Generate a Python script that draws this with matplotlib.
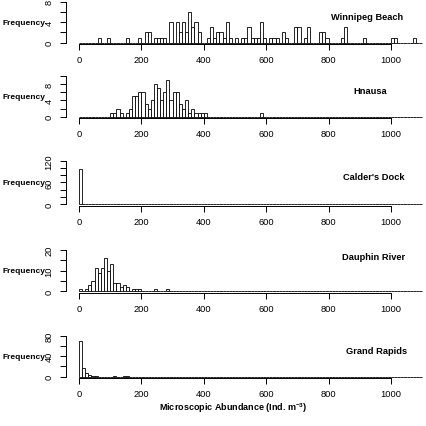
import numpy as np
import matplotlib
matplotlib.use("Agg")
import matplotlib.pyplot as plt

W, H = 426, 427
plt.rcParams['font.family'] = ['Liberation Sans Narrow', 'Liberation Sans', 'DejaVu Sans']
plt.rcParams['mathtext.default'] = 'regular'

# sites, top to bottom
sitios = ["Winnipeg Beach", "Hnausa", "Calder's Dock", "Dauphin River", "Grand Rapids"]

# histogram bins are 10 Ind. m-3 wide, 0..1100; only non-empty bins listed (bin start)
wb_bins = [60, 90, 150, 190, 210, 220, 240, 250, 260, 270, 290, 310, 320, 330, 340,
           350, 360, 370, 380, 410, 420, 430, 440, 450, 460, 470, 480, 500, 520, 530,
           540, 550, 560, 570, 580, 590, 610, 620, 630, 650, 660, 690, 700, 720, 730,
           770, 780, 790, 840, 850, 910, 1000, 1010, 1070]
wb_counts = [1, 1, 1, 1, 2, 2, 1, 1, 1, 1, 4, 4, 2, 4, 2,
             6, 3, 4, 2, 1, 3, 1, 2, 2, 1, 4, 1, 1, 1, 1,
             3, 1, 1, 1, 4, 1, 1, 1, 1, 2, 1, 3, 3, 1, 3,
             2, 2, 1, 1, 3, 1, 1, 1, 1]

hn_bins = [100, 110, 120, 130, 150, 160, 170, 180, 190, 200, 210, 220, 230, 240, 250,
           260, 270, 280, 290, 300, 310, 320, 330, 340, 350, 360, 370, 380, 390, 400, 580]
hn_counts = [1, 1, 2, 1, 1, 2, 5, 5, 6, 6, 3, 2, 4, 8, 7,
             4, 6, 9, 4, 6, 6, 3, 2, 4, 1, 2, 1, 1, 1, 1, 1]

cd_bins = [0]
cd_counts = [96]

dr_bins = [0, 20, 30, 40, 50, 60, 70, 80, 90, 100, 110, 120, 130, 140, 150, 170, 180, 190, 240, 280]
dr_counts = [1, 1, 3, 5, 11, 9, 11, 16, 10, 13, 4, 4, 2, 3, 2, 1, 1, 1, 1, 1]

gr_bins = [0, 10, 20, 30, 40, 50, 110, 140, 150]
gr_counts = [70, 16, 7, 3, 1, 2, 1, 1, 1]

datos = [(wb_bins, wb_counts), (hn_bins, hn_counts), (cd_bins, cd_counts),
         (dr_bins, dr_counts), (gr_bins, gr_counts)]

# y axis: labelled ticks, unlabelled ticks
y_major = [[0, 4, 8], [0, 4, 8], [0, 60, 120], [0, 10, 20], [0, 40, 80]]
y_minor = [[2, 6], [2, 6, 10], [20, 40, 80, 100], [5, 15], [20, 60]]
y_top = [8, 10, 120, 20, 80]

# pixel rows of zero and of top tick for each panel
zero_px = [43.7, 117.7, 205.0, 292.3, 377.7]
top_px = [2.7, 76.8, 161.7, 250.7, 336.7]
titulo_px = [(367, 17), (370, 91), (374, 178), (374, 258), (377, 352)]

edges = np.arange(0, 1100, 10)
x0_px, x1000_px = 79, 391
sx = (x1000_px - x0_px) / 1000.0
left_px, right_px = 66, 426

fig = plt.figure(figsize=(W / 100, H / 100), dpi=100)

for i, (b, c) in enumerate(datos):
    T = y_top[i]
    s = (zero_px[i] - top_px[i]) / T
    bot = zero_px[i] + 0.04 * T * s
    top = top_px[i] - 0.04 * T * s
    ax = fig.add_axes([left_px / W, 1 - bot / H, (right_px - left_px) / W, (bot - top) / H])
    cuentas = np.zeros(len(edges))
    for bb, cc in zip(b, c):
        cuentas[int(bb // 10)] = cc
    ax.bar(edges, cuentas, width=10, align='edge', facecolor='white',
           edgecolor='black', linewidth=0.6)
    ax.set_xlim((left_px - x0_px) / sx, (right_px - x0_px) / sx)
    ax.set_ylim(-0.04 * T, 1.04 * T)
    for sp in ['top', 'right']:
        ax.spines[sp].set_visible(False)
    ax.spines['left'].set_bounds(0, T)
    ax.spines['bottom'].set_bounds(0, 1000)
    ax.spines['left'].set_linewidth(0.7)
    ax.spines['bottom'].set_linewidth(0.7)
    ax.set_xticks(range(0, 1001, 200))
    ax.set_yticks(y_major[i])
    ax.set_yticks(y_minor[i], minor=True)
    ax.tick_params(axis='both', which='both', length=4, width=0.7, labelsize=6.7)
    ax.tick_params(axis='x', pad=4)
    ax.tick_params(axis='y', labelrotation=90, pad=5)
    for lab in ax.get_yticklabels():
        lab.set_verticalalignment('center')
    fig.text(titulo_px[i][0] / W, 1 - titulo_px[i][1] / H, sitios[i],
             ha='center', va='center', fontsize=6.7, fontweight='bold')
    fig.text(24 / W, 1 - (zero_px[i] + top_px[i]) / 2 / H, "Frequency",
             ha='center', va='center', fontsize=6.0, fontweight='bold',
             family=['Liberation Sans', 'DejaVu Sans'])

fig.text(233 / W, 1 - 408 / H, "Microscopic Abundance (Ind. m$^{-3}$)",
         ha='center', va='center', fontsize=6.5, fontweight='bold')

fig.savefig("out.png", dpi=100)
